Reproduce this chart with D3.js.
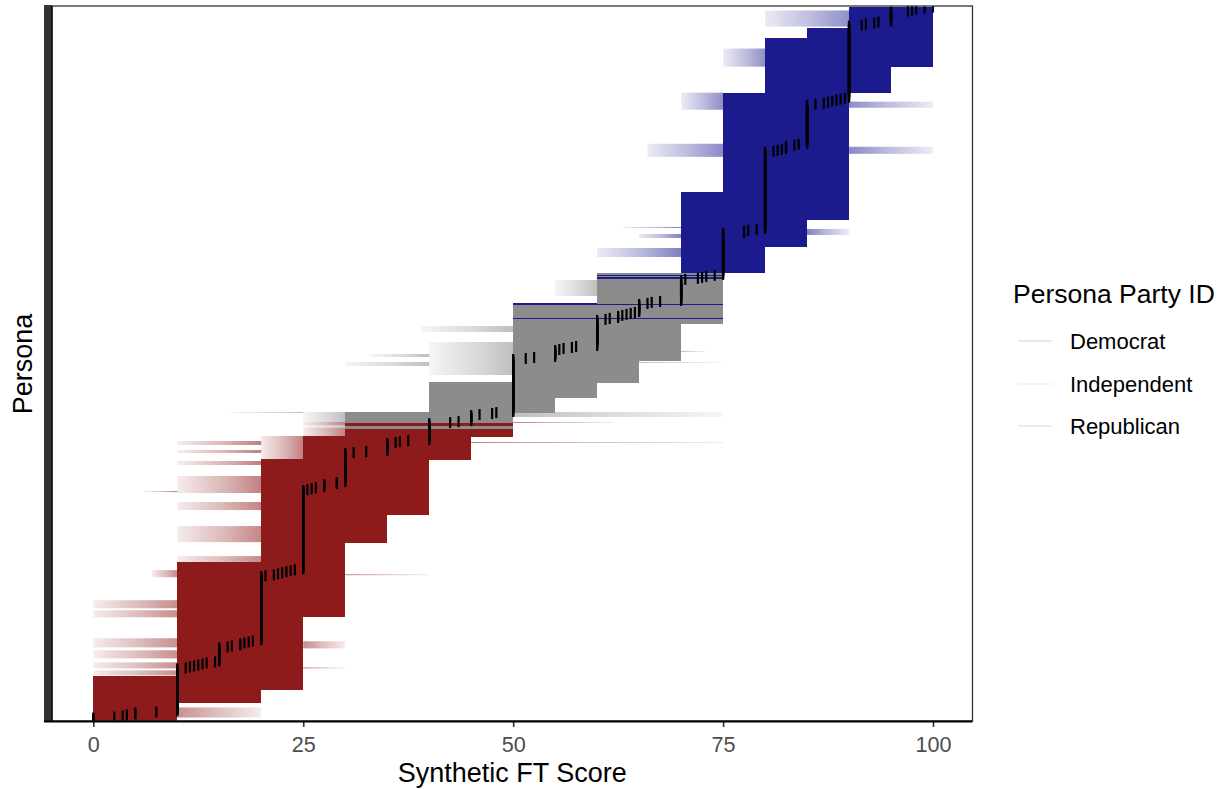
<!DOCTYPE html>
<html><head><meta charset="utf-8">
<script src="https://cdn.jsdelivr.net/npm/d3@7"></script>
<style>body{margin:0;background:#fff;} svg{display:block;font-family:"Liberation Sans",Arial,Helvetica,sans-serif;}</style>
</head><body>
<svg id="chart" width="1226" height="789"></svg>
<script>
// ---- DATA (personas sorted bottom -> top) ----
// median synthetic FT score per persona, run-length encoded
const medianValues = [0,2.5,3.5,4,5,7.5, 10, 11,11.5,12,12.5,13,13.5,14.5, 15, 16,16.5,17.5,18,18.5,19, 20,
  20.5,21.5,22,22.5,23,23.5,24, 25, 25.5,26,26.5,27.5,29, 30, 31,32.5, 35, 36,36.5,37.5, 40, 42.5,43.5, 45, 46,47.5,48,
  50, 51.5,52.5, 55, 55.5,56,57,57.5, 60, 61,61.5,62.5,63,63.5,64,64.5, 65, 66,66.5,67.5, 70, 70.5,72,72.5,73,74, 75,
  77.5,78,79, 80, 81,81.5,82,82.5,83.5,84, 85, 86,87,87.5,88,88.5,89,89.5, 90, 91.5,92,93,93.5, 95, 97,97.5,98,99,100];
const medianCounts = [3,1,1,1,2,1, 43, 1,1,1,1,1,1,1, 14, 1,1,2,1,1,1, 64,
  1,1,1,1,1,1,1, 79, 1,1,1,3,2, 29, 1,1, 8, 1,1,1, 17, 1,1, 6, 1,1,1,
  53, 1,1, 7, 1,1,1,1, 26, 1,1,2,1,1,1,1, 8, 1,1,1, 21, 1,1,1,1,1, 42,
  2,1,1, 77, 1,1,1,3,1,1, 39, 1,1,1,1,1,1,1, 72, 1,1,1,1, 10, 1,1,1,1,1];
// core score range (min..max) per persona, run-length encoded
const rangeCounts = [18,13,13,60,54,20,28,55,23,24,15,15,22,37,20,30,26,27,28,99,26,29,10,21];
const rangeLow    = [ 0, 0, 0,10,10,20,20,20,25,30,40,40,50,50,50,60,70,70,70,75,80,80,85,90];
const rangeHigh   = [10,20,25,25,30,30,35,40,45,50,55,60,65,70,75,75,80,85,90,90,95,100,100,100];
// persona party ID, run-length encoded
const partyCounts = [292,3,3,104,1,13,1,24,2,1,1,2,266];
const partyIds = ["Republican","Independent","Republican","Independent","Democrat","Independent","Democrat","Independent","Democrat","Independent","Democrat","Independent","Democrat"];
// sparse outer responses: [first persona, last persona, outer score, core edge]
const tails = [
  [4,13,20,10],[46,50,0,10],[53,58,0,10],[53,53,30,25],[63,70,0,10],[74,82,0,10],[73,79,30,25],
  [104,110,0,10],[113,120,0,10],[144,150,7,10],[146,146,40,30],[154,164,10,20],[179,194,10,20],
  [211,218,10,20],[228,244,10,20],[229,229,6,10],[256,259,10,20],[262,284,20,25],[268,270,10,20],
  [276,279,10,20],[278,278,75,45],[285,308,25,30],[298,298,62,50],[304,308,75,50],[308,308,16,25],
  [346,378,40,50],[355,358,30,40],[364,366,33,40],[389,394,39,50],[358,358,75,65],[369,369,73,70],
  [425,440,55,60],[464,472,60,70],[483,486,65,70],[493,493,63,70],[486,491,90,85],[564,576,66,75],
  [567,573,100,90],[611,627,70,75],[613,618,100,90],[654,671,75,80],[694,709,80,90]
];
const xTicks = [0,25,50,75,100];
const parties = ["Democrat","Independent","Republican"];
const partyColors = ["#1B1B8E","#8C8C8C","#8E1B1B"];

// ---- expand runs ----
function expand(counts, values){ const out=[]; counts.forEach((c,i)=>{ for(let k=0;k<c;k++) out.push(values[i]); }); return out; }
const medByRow = expand(medianCounts, medianValues);
const loByRow = expand(rangeCounts, rangeLow);
const hiByRow = expand(rangeCounts, rangeHigh);
const partyByRow = expand(partyCounts, partyIds);
const N = medByRow.length;
const rows = d3.range(N).map(i=>({r:i+1, med:medByRow[i], lo:loByRow[i], hi:hiByRow[i], party:partyByRow[i]}));
const tailRows = [];
tails.forEach(t=>{ for(let r=t[0]; r<=t[1]; r++){ tailRows.push({r, outer:t[2], inner:t[3], party:partyByRow[r-1]}); } });

const svg = d3.select("#chart");
const P = {l:52, r:972.5, t:6, b:721};
const x = d3.scaleLinear().domain([0,100]).range([93.3, 933]);
const y = d3.scaleLinear().domain([0, N+1]).range([P.b, P.t]);
const color = d3.scaleOrdinal().domain(parties).range(partyColors);
const rowH = Math.abs(y(1)-y(0));

const defs = svg.append("defs");
defs.append("clipPath").attr("id","panel").append("rect")
  .attr("x",P.l).attr("y",P.t).attr("width",P.r-P.l).attr("height",P.b-P.t);
parties.forEach(p=>{
  const gl = defs.append("linearGradient").attr("id","fadeL-"+p).attr("x1",0).attr("x2",1).attr("y1",0).attr("y2",0);
  gl.append("stop").attr("offset",0).attr("stop-color",color(p)).attr("stop-opacity",0.12);
  gl.append("stop").attr("offset",0.55).attr("stop-color",color(p)).attr("stop-opacity",0.45);
  gl.append("stop").attr("offset",1).attr("stop-color",color(p)).attr("stop-opacity",0.8);
  const gr = defs.append("linearGradient").attr("id","fadeR-"+p).attr("x1",0).attr("x2",1).attr("y1",0).attr("y2",0);
  gr.append("stop").attr("offset",0).attr("stop-color",color(p)).attr("stop-opacity",0.8);
  gr.append("stop").attr("offset",0.45).attr("stop-color",color(p)).attr("stop-opacity",0.45);
  gr.append("stop").attr("offset",1).attr("stop-color",color(p)).attr("stop-opacity",0.12);
});

const plot = svg.append("g").attr("clip-path","url(#panel)");
// tails
plot.append("g").selectAll("rect").data(tailRows).join("rect")
  .attr("x",d=>x(Math.min(d.outer,d.inner)))
  .attr("width",d=>Math.abs(x(d.outer)-x(d.inner)))
  .attr("y",d=>y(d.r)-rowH*0.35).attr("height",rowH*0.7)
  .attr("fill",d=>`url(#${d.outer<d.inner?"fadeL":"fadeR"}-${d.party})`);
// cores
plot.append("g").attr("shape-rendering","crispEdges").selectAll("rect").data(rows).join("rect")
  .attr("x",d=>x(d.lo)).attr("width",d=>x(d.hi)-x(d.lo))
  .attr("y",d=>y(d.r)-rowH/2).attr("height",rowH+0.6)
  .attr("fill",d=>color(d.party));
// medians
plot.append("g").selectAll("rect").data(rows).join("rect")
  .attr("x",d=>x(d.med)-1.1).attr("width",2.2)
  .attr("y",d=>y(d.r)-5.5).attr("height",11)
  .attr("fill","#000");

// panel border (top/right)
svg.append("rect").attr("x",P.l).attr("y",P.t).attr("width",P.r-P.l).attr("height",P.b-P.t)
  .attr("fill","none").attr("stroke","#333").attr("stroke-width",1.3);

// y axis: one tick per persona
const yAxis = d3.axisLeft(y).tickValues(rows.map(d=>d.r)).tickSize(8).tickFormat("");
const ya = svg.append("g").attr("transform",`translate(${P.l},0)`).call(yAxis);
ya.select(".domain").remove();
ya.selectAll(".tick line").attr("stroke","#333").attr("stroke-width",1.1);
svg.append("rect").attr("x",44).attr("y",P.t-1).attr("width",8).attr("height",P.b-P.t+1).attr("fill","#333");
svg.append("line").attr("x1",P.l).attr("x2",P.l).attr("y1",P.t).attr("y2",P.b).attr("stroke","#000").attr("stroke-width",1.2);

// x axis
const xAxis = d3.axisBottom(x).tickValues(xTicks).tickSize(6).tickPadding(4).tickFormat(d3.format("d"));
const xa = svg.append("g").attr("transform",`translate(0,${P.b})`).call(xAxis);
xa.select(".domain").remove();
xa.selectAll(".tick line").attr("stroke","#333").attr("stroke-width",1.6);
xa.selectAll(".tick text").attr("fill","#4D4D4D").attr("font-size","21.6px").attr("dy",null).attr("y",31)
  .attr("font-family","'Liberation Sans',Arial,sans-serif");
svg.append("line").attr("x1",44).attr("x2",P.r).attr("y1",P.b+0.5).attr("y2",P.b+0.5).attr("stroke","#000").attr("stroke-width",2.2);

// axis titles
svg.append("text").attr("x",(P.l+P.r)/2).attr("y",782).attr("text-anchor","middle")
  .attr("font-size","27px").attr("fill","#000").text("Synthetic FT Score");
svg.append("text").attr("transform","translate(32,364) rotate(-90)").attr("text-anchor","middle")
  .attr("font-size","27px").attr("fill","#000").text("Persona");

// legend
const lg = svg.append("g");
lg.append("text").attr("x",1013).attr("y",303).attr("font-size","26.5px").attr("fill","#000").text("Persona Party ID");
const keyY = [341,384,426];
parties.forEach((p,i)=>{
  lg.append("line").attr("x1",1018).attr("x2",1052).attr("y1",keyY[i]).attr("y2",keyY[i])
    .attr("stroke",color(p)).attr("stroke-opacity",0.2).attr("stroke-width",1.2);
  lg.append("text").attr("x",1070).attr("y",keyY[i]+7.8).attr("font-size","22px").attr("fill","#000").text(p);
});
</script>
</body></html>
